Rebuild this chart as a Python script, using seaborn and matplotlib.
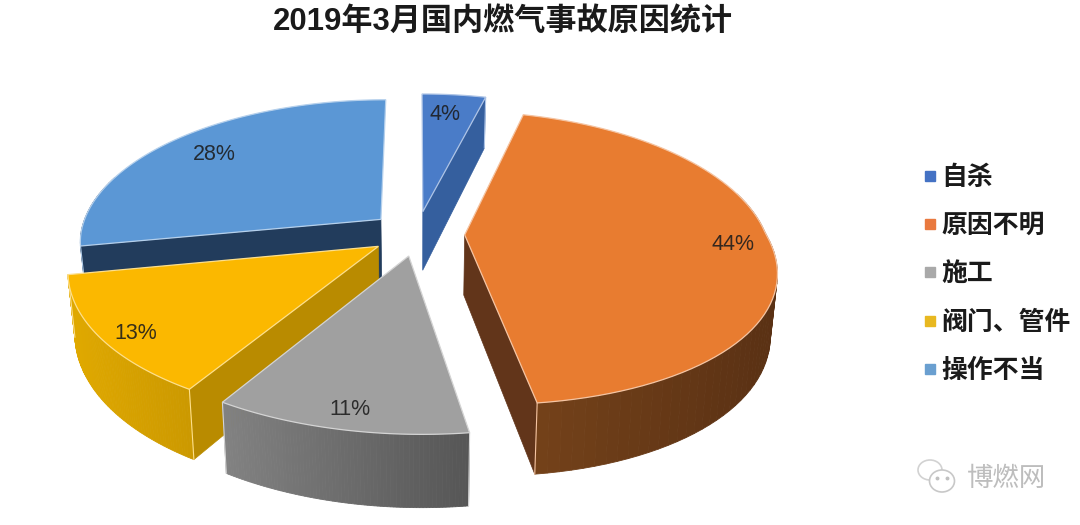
import matplotlib
matplotlib.use('Agg')
import matplotlib.pyplot as plt
from matplotlib.colors import to_rgb
from matplotlib.lines import Line2D
from matplotlib.patches import Ellipse
import numpy as np
import seaborn as sns

sns.set_theme(style='white')
plt.rcParams['font.family'] = ['Liberation Sans', 'Noto Sans CJK SC', 'DejaVu Sans']

# data
title = '2019年3月国内燃气事故原因统计'
causes = ['自杀', '原因不明', '施工', '阀门、管件', '操作不当']
shares = [4, 44, 11, 13, 28]

# colours
top_colors = ['#4a7cc8', '#e87c30', '#a0a0a0', '#fbb800', '#5b97d5']
legend_colors = ['#4472c4', '#e9793f', '#a9a9a9', '#e8b820', '#6a9fd0']
cut_colors = ['#355f9e', '#62351a', '#5a5a5a', '#b98b00', '#223c5c']
rim_colors = [('#355f9e', '#355f9e'), ('#76431a', '#5a3114'), ('#828282', '#565656'),
              ('#e0a900', '#cc9900'), ('#223c5c', '#223c5c')]

# projection settings (pixels)
cx, cy = 417, 233.5
rx, ry = 301, 142.5
persp = 0.157
skew = 15.7
widen = 0.033
depth = 60
explode = 0.158
label_r = [0.82, 0.87, 0.9, 0.88, 0.8]
label_nudge = [(-4, 1), (2, 2), (2, 0), (0, 8), (0, 0)]
draw_order = [0, 4, 1, 3, 2]


def project(u, v):
    u, v = np.asarray(u, float), np.asarray(v, float)
    s = 1 / (1 + persp * v)
    front = np.maximum(-v, 0)
    x = cx + rx * u * s * (1 + widen * front) + skew * front
    y = cy - ry * v * s
    return x, y, s


def drop(x, y, s):
    return cx + (x - cx) * 0.98, y + depth * s


def blend(c1, c2, t):
    return tuple((1 - t) * a + t * b for a, b in zip(to_rgb(c1), to_rgb(c2)))


fig = plt.figure(figsize=(10.8, 5.25), dpi=100)
ax = fig.add_axes([0, 0, 1, 1])
ax.set_xlim(0, 1080)
ax.set_ylim(525, 0)
ax.axis('off')

edges = np.cumsum([0] + shares) / sum(shares) * 2 * np.pi

for i in draw_order:
    a0, a1 = edges[i], edges[i + 1]
    mid = (a0 + a1) / 2
    ou, ov = explode * np.sin(mid), explode * np.cos(mid)
    ang = np.linspace(a0, a1, 80)
    x, y, s = project(np.sin(ang) + ou, np.cos(ang) + ov)
    xb, yb = drop(x, y, s)
    tx, ty, ts = project(ou, ov)
    txb, tyb = drop(tx, ty, ts)

    # cut faces, only the ones turned to the viewer
    faces = []
    if np.sin(a0) < -1e-9:
        faces.append(0)
    if np.sin(a1) > 1e-9:
        faces.append(-1)
    for k in faces:
        ax.fill([tx, x[k], xb[k], txb], [ty, y[k], yb[k], tyb], color=cut_colors[i], lw=0.5)

    # outer wall, shaded left to right, back part is hidden
    for k in range(len(ang) - 1):
        if np.cos(ang[k]) > 0.3:
            continue
        t = (x[k] - x.min()) / (x.max() - x.min())
        ax.fill([x[k], x[k + 1], xb[k + 1], xb[k]], [y[k], y[k + 1], yb[k + 1], yb[k]],
                color=blend(rim_colors[i][0], rim_colors[i][1], t), lw=0.6)

    # light lines on the corners, under the top face
    edge_c = blend(top_colors[i], 'white', 0.55)
    for k in (0, -1):
        if np.cos(ang[k]) < 0.3 or k in faces:
            ax.plot([x[k], xb[k]], [y[k], yb[k]], color=edge_c, lw=0.8, zorder=1)

    # top face
    ax.fill(np.r_[tx, x], np.r_[ty, y], facecolor=top_colors[i], edgecolor=edge_c, lw=0.9)

    # percent label
    lu = label_r[i] * np.sin(mid) + ou
    lv = label_r[i] * np.cos(mid) + ov
    lx, ly, _ = project(lu, lv)
    ax.text(lx + label_nudge[i][0], ly + label_nudge[i][1], '%d%%' % shares[i], ha='center',
            va='center', fontsize=15.5, color='#1c1c1c', alpha=0.88)

fig.text(503 / 1080, 1 - 22 / 525, title, ha='center', va='center', fontsize=22.4,
         fontweight='bold', color='#1a1a1a')

handles = [Line2D([], [], ls='', marker='s', ms=7.5, color=c) for c in legend_colors]
ax.legend(handles, causes, loc='upper left', bbox_to_anchor=(920 / 1080, 1 - 164 / 525),
          frameon=False, labelspacing=0.82, handlelength=0.8,
          handletextpad=0.03, borderpad=0, borderaxespad=0,
          prop={'family': ['Noto Sans CJK SC'], 'weight': 'bold', 'size': 18.6},
          labelcolor='#1a1a1a')

# watermark
ax.add_patch(Ellipse((930, 470), 24, 20, fc='white', ec='#d2d2d2', lw=1.2))
ax.add_patch(Ellipse((942, 481), 25, 22, fc='white', ec='#c8c8c8', lw=1.2))
ax.plot([937, 947], [478, 478], ls='', marker='o', ms=1.8, color='#c0c0c0')
ax.text(1006, 478, '博燃网', ha='center', va='center', fontsize=19, color='#bdbdbd',
        family=['Noto Sans CJK SC'])

fig.savefig('out.png', dpi=100)
